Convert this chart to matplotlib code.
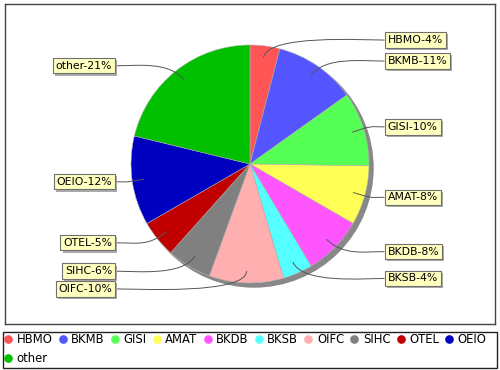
import numpy as np
import matplotlib
matplotlib.use("Agg")
from matplotlib import pyplot as plt
from matplotlib.path import Path
from matplotlib.patches import PathPatch, Circle, Rectangle
from matplotlib import patheffects as pe

# slice data (percent shares)
names = ["HBMO", "BKMB", "GISI", "AMAT", "BKDB", "BKSB", "OIFC", "SIHC", "OTEL", "OEIO", "other"]
shares = [4, 11, 10, 8, 8, 4, 10, 6, 5, 12, 21]
colors = ["#ff5555", "#5555ff", "#55ff55", "#ffff55", "#ff55ff", "#55ffff",
          "#ffafaf", "#808080", "#c00000", "#0000c0", "#00c000"]

fig = plt.figure(figsize=(5, 3.7), dpi=100)
fig.patch.set_facecolor("white")

# plot frame, pixel box 5..495 x 4..324, pie radius ~119px centred at (250,164)
R = 119.0
xlim = ((5 - 250) / R, (495 - 250) / R)
ylim = (-(324 - 164) / R, (164 - 4) / R)
ax = fig.add_axes([5 / 500, (370 - 324) / 370, 490 / 500, 320 / 370])

# drop shadow behind the pie
off = 4 / R
ax.add_patch(Circle((off, -off), 1.0, color="#888888", zorder=1))

wedges, _ = ax.pie(shares, colors=colors, startangle=90, counterclock=False,
                   radius=1.0, center=(0, 0), frame=True,
                   wedgeprops=dict(edgecolor="#b0b0b0", linewidth=0.4, zorder=2))
ax.set_xlim(*xlim)
ax.set_ylim(*ylim)
ax.set_aspect("auto")
ax.set_xticks([])
ax.set_yticks([])
for s in ax.spines.values():
    s.set_color("#444444")
    s.set_linewidth(1.0)

fs = 7.8
total = float(sum(shares))
label_r = 1.05
label_x = 1.13

for w, name, val in zip(wedges, names, shares):
    mid = np.deg2rad((w.theta1 + w.theta2) / 2)
    c, s = np.cos(mid), np.sin(mid)
    side = 1 if c >= 0 else -1
    ly = label_r * s
    lx = side * label_x
    text = f"{name}-{round(100 * val / total)}%"

    # link curve from inside the slice out to the label box
    p0 = (0.9 * c, 0.9 * s)
    p1 = (1.1 * c, 1.1 * s)
    p2 = (side * 0.95, ly)
    p3 = (lx, ly)
    path = Path([p0, p1, p2, p3], [Path.MOVETO, Path.CURVE4, Path.CURVE4, Path.CURVE4])
    ax.add_patch(PathPatch(path, fill=False, edgecolor="#555555", linewidth=0.7, zorder=3))

    ha = "left" if side > 0 else "right"
    tx = lx + side * 0.028
    t = ax.text(tx, ly, text, ha=ha, va="center", fontsize=fs, color="black", zorder=5,
                bbox=dict(boxstyle="square,pad=0.25", fc="#ffffc0", ec="#707070", lw=0.8))
    t.get_bbox_patch().set_path_effects([
        pe.SimplePatchShadow(offset=(1.5, -1.5), shadow_rgbFace="#aaaaaa", alpha=1.0),
        pe.Normal()])

# legend: flow layout, 10 items in first row, "other" wraps below HBMO
handles = [plt.Line2D([], [], marker="o", linestyle="none", markersize=5.2,
                      markerfacecolor=col, markeredgecolor=col) for col in colors]
order = [0, 10] + list(range(1, 10))
leg = fig.legend([handles[i] for i in order], [names[i] for i in order],
                 ncol=10, loc="upper left",
                 bbox_to_anchor=(4 / 500, 1 - 333 / 370),
                 fontsize=8.4, frameon=False,
                 handlelength=0.7, handletextpad=0.38, columnspacing=0.52,
                 labelspacing=0.5, borderpad=0.0, borderaxespad=0.0)
fig.add_artist(Rectangle((3 / 500, 2 / 370), 494 / 500, 36 / 370,
                         transform=fig.transFigure, fill=False,
                         edgecolor="#222222", linewidth=1.0))

fig.savefig("out.png", dpi=100)
